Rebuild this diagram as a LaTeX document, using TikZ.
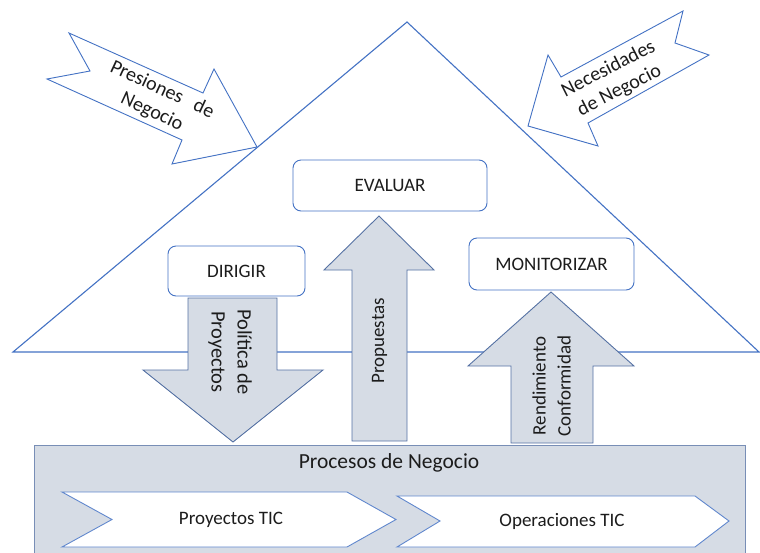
\documentclass[tikz,border=0pt]{standalone}
\usepackage{fontspec}
\setmainfont{Carlito}
\definecolor{lineblue}{RGB}{68,114,196}
\definecolor{slateedge}{RGB}{86,114,164}
\definecolor{slatefill}{RGB}{214,220,229}
\definecolor{inktext}{RGB}{28,28,28}
\begin{document}
\begin{tikzpicture}[x=1pt,y=-1pt,
  every node/.style={text=inktext, font=\fontsize{19}{25}\selectfont},
  roof/.style={draw=lineblue, line width=1.1pt, fill=white, line join=miter},
  stagebox/.style={draw=lineblue, line width=0.9pt, fill=white, rounded corners=8pt,
                   inner sep=0pt},
  flowarrow/.style={draw=slateedge, line width=0.9pt, fill=slatefill, line join=miter},
  pressure/.style={draw=lineblue, line width=0.9pt, fill=white, line join=miter},
  panel/.style={draw=slateedge!80, line width=0.9pt, fill=slatefill},
  chevron/.style={draw=lineblue!85, line width=0.9pt, fill=white, line join=miter},
  label/.style={align=center, inner sep=0pt}]
\useasboundingbox (0,0) rectangle (760,552);

% governance triangle
\draw[roof] (407,22) -- (759,352) -- (13,352) -- cycle;

% external drivers
\draw[pressure] (69,33) -- (203,93) -- (214,69) -- (257,147) -- (172,164)
  -- (182,140) -- (47,79) -- (90,71) -- cycle;
\node[label, rotate=-25, font=\fontsize{20}{24}\selectfont] (presiones) at (157,101)
  {Presiones\hspace{0.45em} de\\Negocio};

\draw[pressure] (683,11) -- (561,77) -- (548,55) -- (528,126) -- (598,146)
  -- (588,123) -- (709,55) -- (675,43) -- cycle;
\node[label, rotate=27, font=\fontsize{20}{24}\selectfont] (necesidades) at (614,80)
  {Necesidades\\de Negocio};

% governance activities
\node[stagebox, minimum width=194pt, minimum height=51pt] (evaluar) at (390,185.5) {EVALUAR};
\node[stagebox, minimum width=137pt, minimum height=50pt] (dirigir) at (236.5,271) {DIRIGIR};
\node[stagebox, minimum width=165pt, minimum height=52pt] (monitorizar) at (551.5,264) {MONITORIZAR};

% flows between governance and business processes
\draw[flowarrow] (188,298) -- (277,298) -- (277,370) -- (323,370) -- (233,442)
  -- (143,370) -- (188,370) -- cycle;
\node[label, rotate=-90, font=\fontsize{20.5}{26}\selectfont] (politica) at (230,352)
  {Política de\\Proyectos};

\draw[flowarrow] (379,216) -- (434,270) -- (407,270) -- (407,441) -- (352,441)
  -- (352,270) -- (324,270) -- cycle;
\node[label, rotate=90] (propuestas) at (379.5,341) {Propuestas};

\draw[flowarrow] (551,292) -- (634,366) -- (593,366) -- (593,443) -- (511,443)
  -- (511,366) -- (468,366) -- cycle;
\node[label, rotate=90] (rendimiento) at (551.5,386) {Rendimiento\\Conformidad};

% business processes
\draw[panel] (34,445) rectangle (745,560);
\node[label, font=\fontsize{21.5}{26}\selectfont] (procesos) at (389,463) {Procesos de Negocio};

\draw[chevron] (62,492) -- (347,492) -- (396,519.5) -- (347,547) -- (62,547)
  -- (112,519.5) -- cycle;
\node[label] (proyectos) at (231,520) {Proyectos TIC};

\draw[chevron] (397,496) -- (695,496) -- (729,521) -- (695,547) -- (397,547)
  -- (440,521) -- cycle;
\node[label] (operaciones) at (562,521) {Operaciones TIC};
\end{tikzpicture}
\end{document}
